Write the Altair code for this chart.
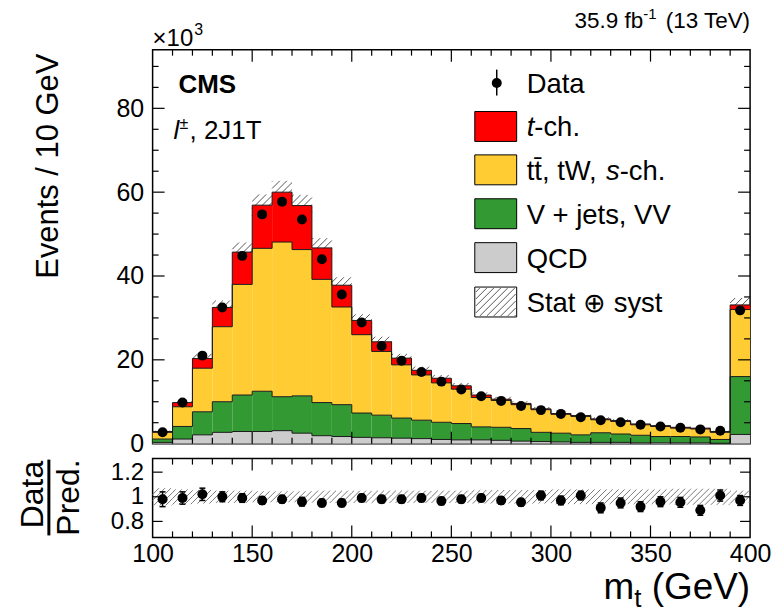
import math
import altair as alt
import numpy as np
import pandas as pd

# ---- binning (GeV); the last bin collects the overflow ----
bin_low = list(range(100, 400, 10))

# ---- expected yields per process (10^3 events / 10 GeV) ----
qcd = [0.3, 1.1, 2.1, 2.7, 2.9, 2.9, 3.1, 2.5, 1.9, 1.7,
       1.5, 1.4, 1.3, 1.2, 1.0, 0.9, 0.9, 0.8, 0.6, 0.5,
       0.4, 0.3, 0.3, 0.3, 0.2, 0.2, 0.2, 0.2, 0.1, 2.2]
vjets_vv = [0.8, 3.0, 5.5, 7.3, 8.7, 9.6, 8.1, 8.9, 7.9, 7.6,
            5.8, 5.4, 4.8, 4.4, 4.1, 3.9, 3.1, 3.1, 3.0, 2.2,
            2.1, 1.8, 2.3, 2.0, 1.8, 1.5, 1.5, 1.4, 0.9, 13.8]
top_bkg = [1.6, 4.7, 10.4, 17.9, 26.4, 34.1, 36.9, 34.9, 29.4, 23.3,
           18.7, 15.2, 12.7, 10.8, 9.4, 8.2, 7.0, 6.4, 5.7, 5.4,
           4.5, 4.4, 3.1, 3.0, 2.5, 2.4, 2.0, 1.9, 1.7, 16.0]
t_channel = [0.2, 1.0, 2.3, 4.6, 7.7, 10.3, 11.9, 10.5, 7.5, 5.2,
             3.4, 2.3, 1.6, 1.1, 1.1, 0.8, 0.6, 0.3, 0.3, 0.2,
             0.2, 0.2, 0.2, 0.2, 0.2, 0.2, 0.2, 0.2, 0.2, 1.1]
data = [2.7, 9.8, 21.0, 32.5, 44.8, 54.7, 57.7, 53.5, 44.0, 35.6,
        28.9, 23.3, 19.8, 17.1, 14.8, 12.9, 11.3, 10.2, 9.0, 8.0,
        7.1, 6.3, 5.6, 5.1, 4.5, 4.1, 3.8, 3.4, 3.1, 31.8]
# relative stat (+) syst uncertainty on the prediction
unc_rel = [0.07, 0.06, 0.055, 0.05, 0.05, 0.045, 0.045, 0.045, 0.05, 0.05,
           0.05, 0.05, 0.05, 0.05, 0.05, 0.05, 0.055, 0.055, 0.055, 0.055,
           0.06, 0.06, 0.06, 0.06, 0.06, 0.06, 0.065, 0.065, 0.065, 0.05]
# data / prediction and its uncertainty
ratio = [0.98, 0.99, 1.02, 1.00, 0.99, 0.97, 0.98, 0.96, 0.95, 0.95,
         0.99, 0.98, 0.98, 0.99, 0.965, 0.98, 0.99, 0.97, 0.955, 1.01,
         0.97, 1.01, 0.91, 0.95, 0.92, 0.96, 0.955, 0.89, 1.01, 0.97]
ratio_err = [0.06, 0.05, 0.05, 0.04, 0.035, 0.03, 0.03, 0.035, 0.03, 0.03,
             0.03, 0.03, 0.03, 0.03, 0.03, 0.03, 0.03, 0.03, 0.03, 0.035,
             0.035, 0.035, 0.04, 0.04, 0.04, 0.04, 0.04, 0.04, 0.045, 0.04]

process_names = ["QCD", "V + jets, VV", "tt\u0304, tW, s-ch.", "t-ch."]
process_colors = ["#cccccc", "#339933", "#ffcc33", "#ff0000"]

FONT = "Liberation Sans"
W, H1, H2 = 599, 395, 79
XMIN, XMAX = 100, 400
YMAX = 94
RMIN, RMAX = 0.67, 1.31

xscale = alt.Scale(domain=[XMIN, XMAX], nice=False, zero=False)
yscale = alt.Scale(domain=[0, YMAX], nice=False, zero=False)
rscale = alt.Scale(domain=[RMIN, RMAX], nice=False, zero=False)

YAX = alt.Axis(values=[0, 20, 40, 60, 80], title=None, labelPadding=9,
               labelFlush=False, labelOverlap=False)
RAX = alt.Axis(values=[0.8, 1, 1.2], format="~g", title=None, labelPadding=9,
               labelFontSize=24, labelFlush=False, labelOverlap=False)
XAX = alt.Axis(values=[100, 150, 200, 250, 300, 350, 400], title=None,
               labelPadding=4, labelFlush=False, labelOverlap=False)

n = len(bin_low)
edges = bin_low + [XMAX]
centers = [b + 5 for b in bin_low]

# ---- stacked histogram table ----
rows, steps = [], []
cum = np.zeros(n)
for name, vals in zip(process_names, [qcd, vjets_vv, top_bkg, t_channel]):
    base = cum.copy()
    cum = cum + np.array(vals)
    for i in range(n):
        rows.append(dict(proc=name, lo=bin_low[i], hi=bin_low[i] + 10,
                         y0=base[i], y1=cum[i]))
    for i, e in enumerate(edges):
        steps.append(dict(proc=name, x=e, y=cum[min(i, n - 1)]))
stack = pd.DataFrame(rows)
outline = pd.DataFrame(steps)
total = cum


# ---- hatch pattern built from short 45 degree segments ----
def to_x(p):
    return XMIN + p / W * (XMAX - XMIN)


def px_x(v):
    return (v - XMIN) / (XMAX - XMIN) * W


def hatch_px(rects, step=7.0):
    """rects in pixel coords (x0, x1, top, bottom); returns pixel segments"""
    segs = []
    for x0, x1, top, bot in rects:
        k0 = math.ceil((x0 + top) / step)
        k1 = math.floor((x1 + bot) / step)
        for k in range(k0, k1 + 1):
            c = k * step
            xa = max(x0, c - bot)
            xb = min(x1, c - top)
            if xb - xa > 0.4:
                segs.append((xa, c - xa, xb, c - xb))
    return segs


def segs_to_data(segs, lo, hi, H):
    def ty(p):
        return hi - p / H * (hi - lo)
    return pd.DataFrame([dict(x0=to_x(a), y0=ty(b), x1=to_x(c), y1=ty(d))
                         for a, b, c, d in segs])


def band_rects(lows, highs, ylo, yhi, lo, hi, H):
    out = []
    for a, b, c, d in zip(lows, highs, ylo, yhi):
        top = (hi - d) / (hi - lo) * H
        bot = (hi - c) / (hi - lo) * H
        out.append((px_x(a), px_x(b), top, bot))
    return out


up_band = band_rects(bin_low, [b + 10 for b in bin_low],
                     total * (1 - np.array(unc_rel)), total * (1 + np.array(unc_rel)),
                     0, YMAX, H1)
hatch_up = segs_to_data(hatch_px(up_band), 0, YMAX, H1)

r_band = band_rects(bin_low, [b + 10 for b in bin_low],
                    1 - np.array(unc_rel), 1 + np.array(unc_rel), RMIN, RMAX, H2)
hatch_r = segs_to_data(hatch_px(r_band, step=6.0), RMIN, RMAX, H2)

one = pd.DataFrame({"k": [0]})

CW = {' ': .278, '(': .333, ')': .333, '-': .333, '.': .278, ',': .278,
      '0': .556, '1': .556, '2': .556, '3': .556, '5': .556, '9': .556,
      'G': .778, 'e': .556, 'V': .667, 'T': .611, 'm': .833, 't': .278,
      'f': .278, 'b': .556, '\u00d7': .584, 'l': .222, 's': .5, 'W': .944,
      'J': .5, '\u0304': 0.0}


def tw(s, size):
    return sum(CW.get(c, .556) for c in s) * size


def label(s, x, y, size, align="left", baseline="alphabetic", angle=None,
          style="normal", weight="normal"):
    kw = dict(text=s, fontSize=size, align=align, baseline=baseline, font=FONT,
              fontStyle=style, fontWeight=weight, color="black")
    if angle is not None:
        kw["angle"] = angle
    return alt.Chart(one).mark_text(**kw).encode(x=alt.value(x), y=alt.value(y))


def hticks(values, axis, length, H, width=1.2):
    df = pd.DataFrame({"v": values})
    base = alt.Chart(df).mark_rule(color="black", strokeWidth=width)
    top = base.encode(x=alt.X("v:Q", scale=xscale, axis=axis),
                      y=alt.value(0), y2=alt.value(length))
    bot = base.encode(x=alt.X("v:Q", scale=xscale, axis=axis),
                      y=alt.value(H - length), y2=alt.value(H))
    return [top, bot]


def vticks(values, scale, axis, length, width=1.2):
    df = pd.DataFrame({"v": values})
    base = alt.Chart(df).mark_rule(color="black", strokeWidth=width)
    left = base.encode(y=alt.Y("v:Q", scale=scale, axis=axis),
                       x=alt.value(0), x2=alt.value(length))
    right = base.encode(y=alt.Y("v:Q", scale=scale, axis=axis),
                        x=alt.value(W - length), x2=alt.value(W))
    return [left, right]


x_major = [150, 200, 250, 300, 350]
x_minor = [v for v in range(110, 400, 10) if v % 50]

# ================= upper panel =================
hatch_layer = alt.Chart(hatch_up).mark_rule(color="#555555", strokeWidth=1).encode(
    x=alt.X("x0:Q", scale=xscale, axis=None), x2="x1:Q",
    y=alt.Y("y0:Q", scale=yscale, axis=YAX), y2="y1:Q")

bars = alt.Chart(stack).mark_rect().encode(
    x=alt.X("lo:Q", scale=xscale, axis=None), x2="hi:Q",
    y=alt.Y("y0:Q", scale=yscale, axis=YAX), y2="y1:Q",
    color=alt.Color("proc:N", scale=alt.Scale(domain=process_names,
                                              range=process_colors), legend=None))

steps_layer = alt.Chart(outline).mark_line(interpolate="step-after", color="#1a1a1a",
                                           strokeWidth=1).encode(
    x=alt.X("x:Q", scale=xscale, axis=None),
    y=alt.Y("y:Q", scale=yscale, axis=YAX),
    detail="proc:N")

data_df = pd.DataFrame({"x": centers, "y": data})
points = alt.Chart(data_df).mark_circle(size=100, color="black", opacity=1).encode(
    x=alt.X("x:Q", scale=xscale, axis=None),
    y=alt.Y("y:Q", scale=yscale, axis=YAX))

# legend
LX0, LX1, LTX, LS = 323, 365, 375, 27.5
legend_layers = [
    alt.Chart(one).mark_rule(color="black", strokeWidth=1.5).encode(
        x=alt.value(345), y=alt.value(20), y2=alt.value(46)),
    alt.Chart(one).mark_circle(size=100, color="black", opacity=1).encode(
        x=alt.value(345), y=alt.value(33.5)),
    label("Data", LTX, 43, LS),
]
box_tops = [62, 105.5, 149.5, 193.5, 238]
box_fill = ["#ff0000", "#ffcc33", "#339933", "#cccccc", "white"]
for top, col in zip(box_tops, box_fill):
    legend_layers.append(alt.Chart(one).mark_rect(fill=col, stroke="black",
                                                  strokeWidth=1).encode(
        x=alt.value(LX0), x2=alt.value(LX1), y=alt.value(top), y2=alt.value(top + 30)))
leg_hatch = segs_to_data(hatch_px([(LX0 + 1, LX1 - 1, 239, 267)], step=7.0), 0, YMAX, H1)
legend_layers.append(alt.Chart(leg_hatch).mark_rule(color="#555555", strokeWidth=1).encode(
    x=alt.X("x0:Q", scale=xscale, axis=None), x2="x1:Q",
    y=alt.Y("y0:Q", scale=yscale, axis=YAX), y2="y1:Q"))

bl = [t + 25 for t in box_tops]
legend_layers += [
    label("t", LTX, bl[0], LS, style="italic"),
    label("-ch.", LTX + tw("t", LS), bl[0], LS),
    label("tt\u0304, tW, ", LTX, bl[1], LS),
    label("s", LTX + tw("tt, tW, ", LS), bl[1], LS, style="italic"),
    label("-ch.", LTX + tw("tt, tW, s", LS), bl[1], LS),
    label("V + jets, VV", LTX, bl[2], LS),
    label("QCD", LTX, bl[3], LS),
    label("Stat \u2295 syst", LTX, bl[4], LS),
]

# panel annotations
LUMI = 22.5
lumi_r = W
texts_up = [
    label("CMS", 26, 43, 26, weight="bold"),
    label("l", 21, 90, 26, style="italic"),
    label("\u00b1", 27, 80, 16),
    label(", 2J1T", 37, 90, 26),
    label("\u00d710", 0, -4, 24),
    label("3", tw("\u00d710", 24) + 1, -15, 16),
    label(" (13 TeV)", lumi_r, -22, LUMI, align="right"),
    label("-1", lumi_r - tw(" (13 TeV)", LUMI), -31, 15, align="right"),
    label("35.9 fb", lumi_r - tw(" (13 TeV)", LUMI) - tw("-1", 15), -22, LUMI,
          align="right"),
    label("Events / 10 GeV", -95, 4, 31, align="right", angle=270),
]

y_major = [20, 40, 60, 80]
y_minor = [v for v in range(5, 94, 5) if v % 20]
ticks_up = (hticks(x_major, None, 12, H1) + hticks(x_minor, None, 6, H1)
            + vticks(y_major, yscale, YAX, 12) + vticks(y_minor, yscale, YAX, 6))

anchor_tl = alt.Chart(one).mark_rect(fillOpacity=0, strokeOpacity=0).encode(
    x=alt.value(-152), x2=alt.value(-150), y=alt.value(-48), y2=alt.value(-46))

upper = alt.layer(hatch_layer, bars, steps_layer, points, *legend_layers, *texts_up,
                  *ticks_up, anchor_tl).properties(width=W, height=H1)

# ================= ratio panel =================
hatch_r_layer = alt.Chart(hatch_r).mark_rule(color="#777777", strokeWidth=1).encode(
    x=alt.X("x0:Q", scale=xscale, axis=XAX), x2="x1:Q",
    y=alt.Y("y0:Q", scale=rscale, axis=RAX), y2="y1:Q")

rdf = pd.DataFrame({"x": centers, "r": ratio,
                    "lo": np.array(ratio) - np.array(ratio_err),
                    "hi": np.array(ratio) + np.array(ratio_err)})
rdf["cx0"] = rdf["x"] - 1.5
rdf["cx1"] = rdf["x"] + 1.5
rbars = alt.Chart(rdf).mark_rule(color="black", strokeWidth=1.5).encode(
    x=alt.X("x:Q", scale=xscale, axis=XAX),
    y=alt.Y("lo:Q", scale=rscale, axis=RAX), y2="hi:Q")
rcap_lo = alt.Chart(rdf).mark_rule(color="black", strokeWidth=1.5).encode(
    x=alt.X("cx0:Q", scale=xscale, axis=XAX), x2="cx1:Q",
    y=alt.Y("lo:Q", scale=rscale, axis=RAX))
rcap_hi = alt.Chart(rdf).mark_rule(color="black", strokeWidth=1.5).encode(
    x=alt.X("cx0:Q", scale=xscale, axis=XAX), x2="cx1:Q",
    y=alt.Y("hi:Q", scale=rscale, axis=RAX))
rpoints = alt.Chart(rdf).mark_circle(size=100, color="black", opacity=1).encode(
    x=alt.X("x:Q", scale=xscale, axis=XAX),
    y=alt.Y("r:Q", scale=rscale, axis=RAX))

ticks_r = (hticks(x_major, XAX, 12, H2) + hticks(x_minor, XAX, 6, H2)
           + vticks([0.8, 1.0, 1.2], rscale, RAX, 10))

MT = 37
texts_r = [
    label("Data", -110, 36, 32, align="center", angle=270),
    label("Pred.", -74, 39, 32, align="center", angle=270),
    alt.Chart(one).mark_rule(color="black", strokeWidth=3).encode(
        x=alt.value(-104), y=alt.value(1), y2=alt.value(77)),
    label(" (GeV)", W, 141, MT, align="right"),
    label("t", W - tw(" (GeV)", MT), 141 + 0.22 * MT, 0.7 * MT, align="right"),
    label("m", W - tw(" (GeV)", MT) - tw("t", 0.7 * MT), 141, MT, align="right"),
]

anchor_br = alt.Chart(one).mark_rect(fillOpacity=0, strokeOpacity=0).encode(
    x=alt.value(630), x2=alt.value(632), y=alt.value(152), y2=alt.value(154))

lower = alt.layer(hatch_r_layer, rbars, rcap_lo, rcap_hi, rpoints, *ticks_r, *texts_r,
                  anchor_br).properties(width=W, height=H2)

chart = alt.vconcat(upper, lower, spacing=15, bounds="flush", padding=0).configure_view(
    stroke="black", strokeWidth=1.5
).configure_axis(
    labelFont=FONT, labelFontSize=25, labelColor="black", grid=False,
    ticks=False, tickSize=0, domain=False
)

chart.save("out.html", embed_options={"renderer": "svg", "actions": False})
